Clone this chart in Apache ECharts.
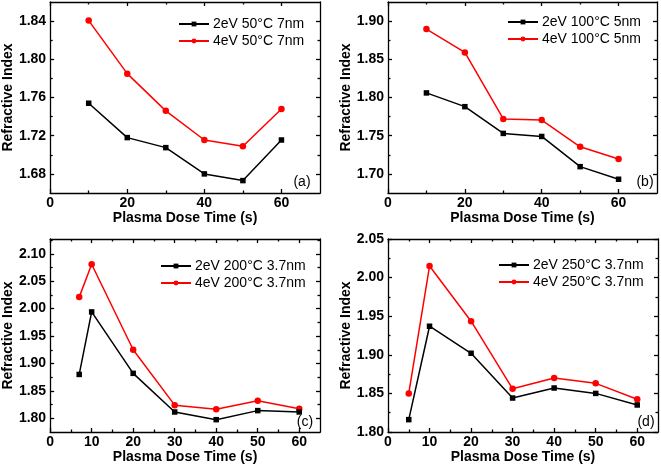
<!DOCTYPE html>
<html>
<head>
<meta charset="utf-8">
<script src="https://cdn.jsdelivr.net/npm/echarts@6/dist/echarts.min.js"></script>
<style>html,body{margin:0;padding:0;background:#fff}#c{width:661px;height:468px}</style>
</head>
<body>
<div id="c"></div>
<script>
// ---- data ----
const aX = [10, 20, 30, 40, 50, 60];
const a2eV = [1.754, 1.718, 1.7075, 1.680, 1.673, 1.7155];
const a4eV = [1.8405, 1.785, 1.746, 1.7155, 1.709, 1.748];
const bX = [10, 20, 30, 40, 50, 60];
const b2eV = [1.806, 1.788, 1.753, 1.749, 1.7095, 1.693];
const b4eV = [1.8895, 1.859, 1.772, 1.7705, 1.7355, 1.7195];
const cX = [7, 10, 20, 30, 40, 50, 60];
const c2eV = [1.880, 1.994, 1.882, 1.8115, 1.7975, 1.814, 1.8115];
const c4eV = [2.021, 2.081, 1.925, 1.824, 1.8165, 1.832, 1.8175];
const dX = [5, 10, 20, 30, 40, 50, 60];
const d2eV = [1.816, 1.937, 1.902, 1.844, 1.857, 1.850, 1.835];
const d4eV = [1.850, 2.015, 1.9435, 1.856, 1.870, 1.863, 1.8425];

const names = [
  ['2eV 50°C 7nm', '4eV 50°C 7nm'],
  ['2eV 100°C 5nm', '4eV 100°C 5nm'],
  ['2eV 200°C 3.7nm', '4eV 200°C 3.7nm'],
  ['2eV 250°C 3.7nm', '4eV 250°C 3.7nm']
];
const panelTags = ['(a)', '(b)', '(c)', '(d)'];

const xTicksAB = [0, 20, 40, 60];
const xMinorAB = [10, 30, 50];
const xTicksCD = [0, 10, 20, 30, 40, 50, 60];
const xMinorCD = [5, 15, 25, 35, 45, 55];
const yTicksA = [1.68, 1.72, 1.76, 1.80, 1.84];
const yMinorA = [1.70, 1.74, 1.78, 1.82];
const yTicksB = [1.70, 1.75, 1.80, 1.85, 1.90];
const yMinorB = [1.725, 1.775, 1.825, 1.875];
const yTicksC = [1.80, 1.85, 1.90, 1.95, 2.00, 2.05, 2.10];
const yMinorC = [1.825, 1.875, 1.925, 1.975, 2.025, 2.075, 2.125];
const yTicksD = [1.80, 1.85, 1.90, 1.95, 2.00, 2.05];
const yMinorD = [1.825, 1.875, 1.925, 1.975, 2.025];

// ---- layout ----
const FONT = '"Liberation Sans", Arial, sans-serif';
const grids = [
  {left: 49, top: 2, width: 271, height: 191},
  {left: 388, top: 2, width: 269, height: 191},
  {left: 49, top: 239, width: 271, height: 193},
  {left: 388, top: 239, width: 270, height: 193}
];
const ranges = [
  {x: [0, 70], y: [1.66, 1.86], xt: xTicksAB, xm: xMinorAB, yt: yTicksA, ym: yMinorA},
  {x: [0, 70], y: [1.675, 1.925], xt: xTicksAB, xm: xMinorAB, yt: yTicksB, ym: yMinorB},
  {x: [0, 65], y: [1.775, 2.127], xt: xTicksCD, xm: xMinorCD, yt: yTicksC, ym: yMinorC},
  {x: [0, 65], y: [1.80, 2.05], xt: xTicksCD, xm: xMinorCD, yt: yTicksD, ym: yMinorD}
];
const legendPos = [
  {left: 178, top: 17},
  {left: 507, top: 15},
  {left: 160, top: 259},
  {left: 498, top: 258}
];
const tagPos = [
  [302, 182], [645, 182], [305, 422], [646, 422]
];
const seriesData = [
  [aX, a2eV, a4eV], [bX, b2eV, b4eV], [cX, c2eV, c4eV], [dX, d2eV, d4eV]
];

const LINE = {color: '#000', width: 1.3};
function axisSet(p, dim, r) {
  const isX = dim === 'x';
  const ext = isX ? r.x : r.y;
  const major = isX ? r.xt : r.yt;
  const minor = isX ? r.xm : r.ym;
  const pos = isX ? ['bottom', 'top'] : ['left', 'right'];
  const fmt = isX ? (v => String(Math.round(v))) : (v => v.toFixed(2));
  const base = {type: 'value', gridIndex: p, min: ext[0], max: ext[1], splitLine: {show: false}, scale: true};
  const list = [];
  pos.forEach((ps, k) => {
    list.push(Object.assign({}, base, {
      position: ps,
      axisLine: {show: true, onZero: false, lineStyle: LINE},
      axisTick: {show: true, inside: true, length: 4, customValues: major, lineStyle: LINE},
      axisLabel: k === 0 ? {show: true, customValues: major, formatter: fmt, fontSize: 14, fontWeight: 'bold', color: '#000', fontFamily: FONT, margin: isX ? 3 : 4} : {show: false},
      name: k === 0 ? (isX ? 'Plasma Dose Time (s)' : 'Refractive Index') : '',
      nameLocation: 'middle',
      nameGap: isX ? 18 : 34,
      nameTextStyle: {fontSize: 14, fontWeight: 'bold', color: '#000', fontFamily: FONT}
    }));
    list.push(Object.assign({}, base, {
      position: ps,
      axisLine: {show: false, onZero: false},
      axisTick: {show: true, inside: true, length: 2.5, customValues: minor, lineStyle: LINE},
      axisLabel: {show: false}
    }));
  });
  return list;
}

const xAxis = [], yAxis = [], series = [], legend = [], graphic = [];
for (let p = 0; p < 4; p++) {
  xAxis.push(...axisSet(p, 'x', ranges[p]));
  yAxis.push(...axisSet(p, 'y', ranges[p]));
  const [xs, y2, y4] = seriesData[p];
  series.push({
    type: 'line', name: names[p][0], xAxisIndex: 4 * p, yAxisIndex: 4 * p,
    data: xs.map((x, i) => [x, y2[i]]),
    symbol: 'rect', symbolSize: 5.5, showSymbol: true,
    itemStyle: {color: '#000'}, lineStyle: {color: '#000', width: 1.5}, z: 3
  });
  series.push({
    type: 'line', name: names[p][1], xAxisIndex: 4 * p, yAxisIndex: 4 * p,
    data: xs.map((x, i) => [x, y4[i]]),
    symbol: 'circle', symbolSize: 6.5, showSymbol: true,
    itemStyle: {color: '#ff0000'}, lineStyle: {color: '#ff0000', width: 1.5}, z: 2
  });
  legend.push({
    data: names[p], orient: 'vertical', left: legendPos[p].left, top: legendPos[p].top,
    itemWidth: 30, itemHeight: 6, itemGap: 3, padding: 0,
    textStyle: {fontSize: 14, color: '#000', fontFamily: FONT, padding: [0, 0, 0, -1]}
  });
  graphic.push({
    type: 'text', x: tagPos[p][0], y: tagPos[p][1],
    style: {text: panelTags[p], fontSize: 14, fill: '#000', font: '14px ' + FONT, textAlign: 'center', textVerticalAlign: 'middle'}
  });
}

const chart = echarts.init(document.getElementById('c'), null, {renderer: 'canvas'});
chart.setOption({
  animation: false,
  backgroundColor: '#fff',
  grid: grids.map(g => Object.assign({containLabel: false}, g)),
  xAxis, yAxis, series, legend, graphic
});
</script>
</body>
</html>
